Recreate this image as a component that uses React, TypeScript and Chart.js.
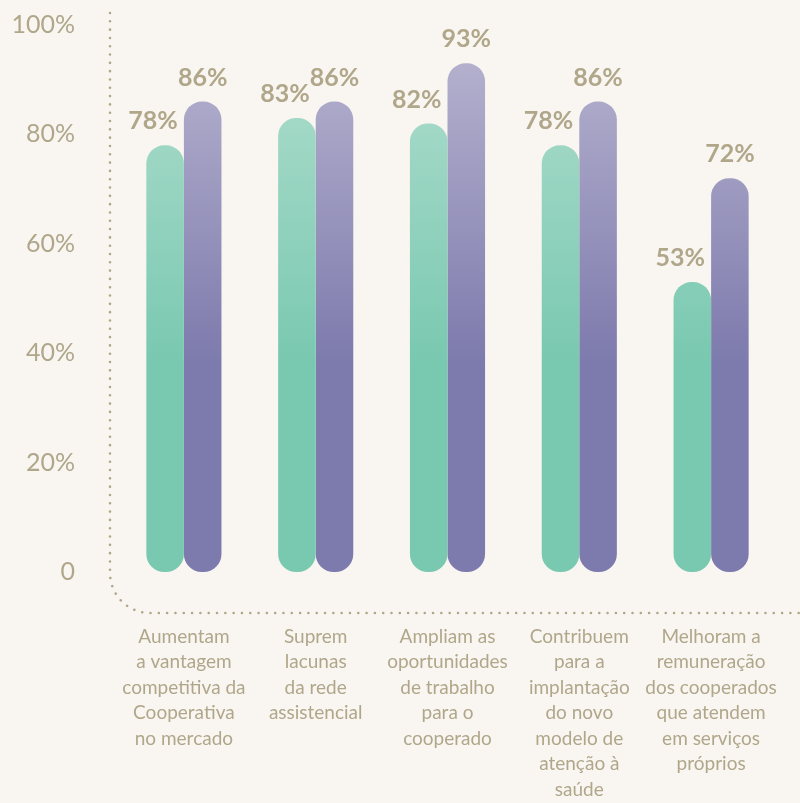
import React, { useEffect, useRef } from "react";
import { Chart, registerables } from "chart.js";

Chart.register(...registerables);

const categories: string[][] = [
  ["Aumentam", "a vantagem", "competitiva da", "Cooperativa", "no mercado"],
  ["Suprem", "lacunas", "da rede", "assistencial"],
  ["Ampliam as", "oportunidades", "de trabalho", "para o", "cooperado"],
  ["Contribuem", "para a", "implantação", "do novo", "modelo de", "atenção à", "saúde"],
  ["Melhoram a", "remuneração", "dos cooperados", "que atendem", "em serviços", "próprios"],
];
const seriesGreen: number[] = [78, 83, 82, 78, 53];
const seriesPurple: number[] = [86, 86, 93, 86, 72];
const yTicks: number[] = [0, 20, 40, 60, 80, 100];

const TEXT = "#b0a68a";
const BG = "#f9f6f1";
const FONT = "Lato, 'Open Sans', sans-serif";

function makeGradient(chart: any, top: string, bottom: string) {
  const area = chart.chartArea;
  if (!area) return bottom;
  const ys = chart.scales.y;
  const g = chart.ctx.createLinearGradient(0, area.top, 0, ys.getPixelForValue(38));
  g.addColorStop(0, top);
  g.addColorStop(1, bottom);
  return g;
}

const axisPlugin = {
  id: "dottedAxis",
  beforeDatasetsDraw(chart: any) {
    const { ctx, chartArea, width } = chart;
    const x = chartArea.left - 8;
    const yBottom = chartArea.bottom + 41;
    const r = 40;
    ctx.save();
    ctx.strokeStyle = TEXT;
    ctx.lineWidth = 2.6;
    ctx.lineCap = "round";
    ctx.setLineDash([0.01, 8.3]);
    ctx.beginPath();
    ctx.moveTo(x, 13);
    ctx.lineTo(x, yBottom - r);
    ctx.arc(x + r, yBottom - r, r, Math.PI, Math.PI / 2, true);
    ctx.lineTo(width, yBottom);
    ctx.stroke();
    ctx.restore();
  },
};

const labelPlugin = {
  id: "valueLabels",
  afterDatasetsDraw(chart: any) {
    const { ctx } = chart;
    ctx.save();
    ctx.fillStyle = TEXT;
    ctx.font = `bold 25px ${FONT}`;
    ctx.textAlign = "center";
    ctx.textBaseline = "middle";
    chart.data.datasets.forEach((ds: any, di: number) => {
      const meta = chart.getDatasetMeta(di);
      const dx = di === 0 ? -12 : 0;
      meta.data.forEach((bar: any, i: number) => {
        ctx.fillText(`${ds.data[i]}%`, bar.x + dx, bar.y - 24);
      });
    });
    ctx.restore();
  },
};

export default function App() {
  const ref = useRef<HTMLCanvasElement>(null);
  useEffect(() => {
    if (!ref.current) return;
    const chart = new Chart(ref.current, {
      type: "bar",
      data: {
        labels: categories,
        datasets: [
          {
            data: seriesGreen,
            backgroundColor: (c: any) => makeGradient(c.chart, "#b2dfcf", "#79c8b0"),
            borderRadius: 18,
            borderSkipped: false,
            categoryPercentage: 0.57,
            barPercentage: 1,
          },
          {
            data: seriesPurple,
            backgroundColor: (c: any) => makeGradient(c.chart, "#bab6d1", "#7d7aad"),
            borderRadius: 18,
            borderSkipped: false,
            categoryPercentage: 0.57,
            barPercentage: 1,
          },
        ],
      },
      options: {
        responsive: false,
        animation: false,
        layout: { padding: { top: 25, right: 23, left: 0, bottom: 0 } },
        plugins: { legend: { display: false }, tooltip: { enabled: false } },
        scales: {
          x: {
            grid: { display: false, drawTicks: false },
            border: { display: false },
            ticks: {
              color: TEXT,
              font: { family: FONT, size: 19, lineHeight: 1.34 },
              padding: 52,
              maxRotation: 0,
              autoSkip: false,
            },
            afterFit: (s: any) => {
              s.height = 231;
              s.paddingLeft = 0;
              s.paddingRight = 0;
            },
          },
          y: {
            min: 0,
            max: 100,
            afterBuildTicks: (s: any) => {
              s.ticks = yTicks.map((v) => ({ value: v }));
            },
            grid: { display: false, drawTicks: false },
            border: { display: false },
            ticks: {
              color: TEXT,
              font: { family: FONT, size: 25 },
              padding: 43,
              callback: (v: any) => (Number(v) === 0 ? "0" : `${v}%`),
            },
            afterFit: (s: any) => {
              s.width = 118;
              s.paddingTop = 0;
              s.paddingBottom = 0;
            },
          },
        },
      },
      plugins: [axisPlugin, labelPlugin],
    });
    return () => chart.destroy();
  }, []);
  return (
    <div style={{ position: "absolute", left: 0, top: 0, width: 800, height: 803, background: BG }}>
      <canvas ref={ref} width={800} height={803} style={{ display: "block" }} />
    </div>
  );
}
